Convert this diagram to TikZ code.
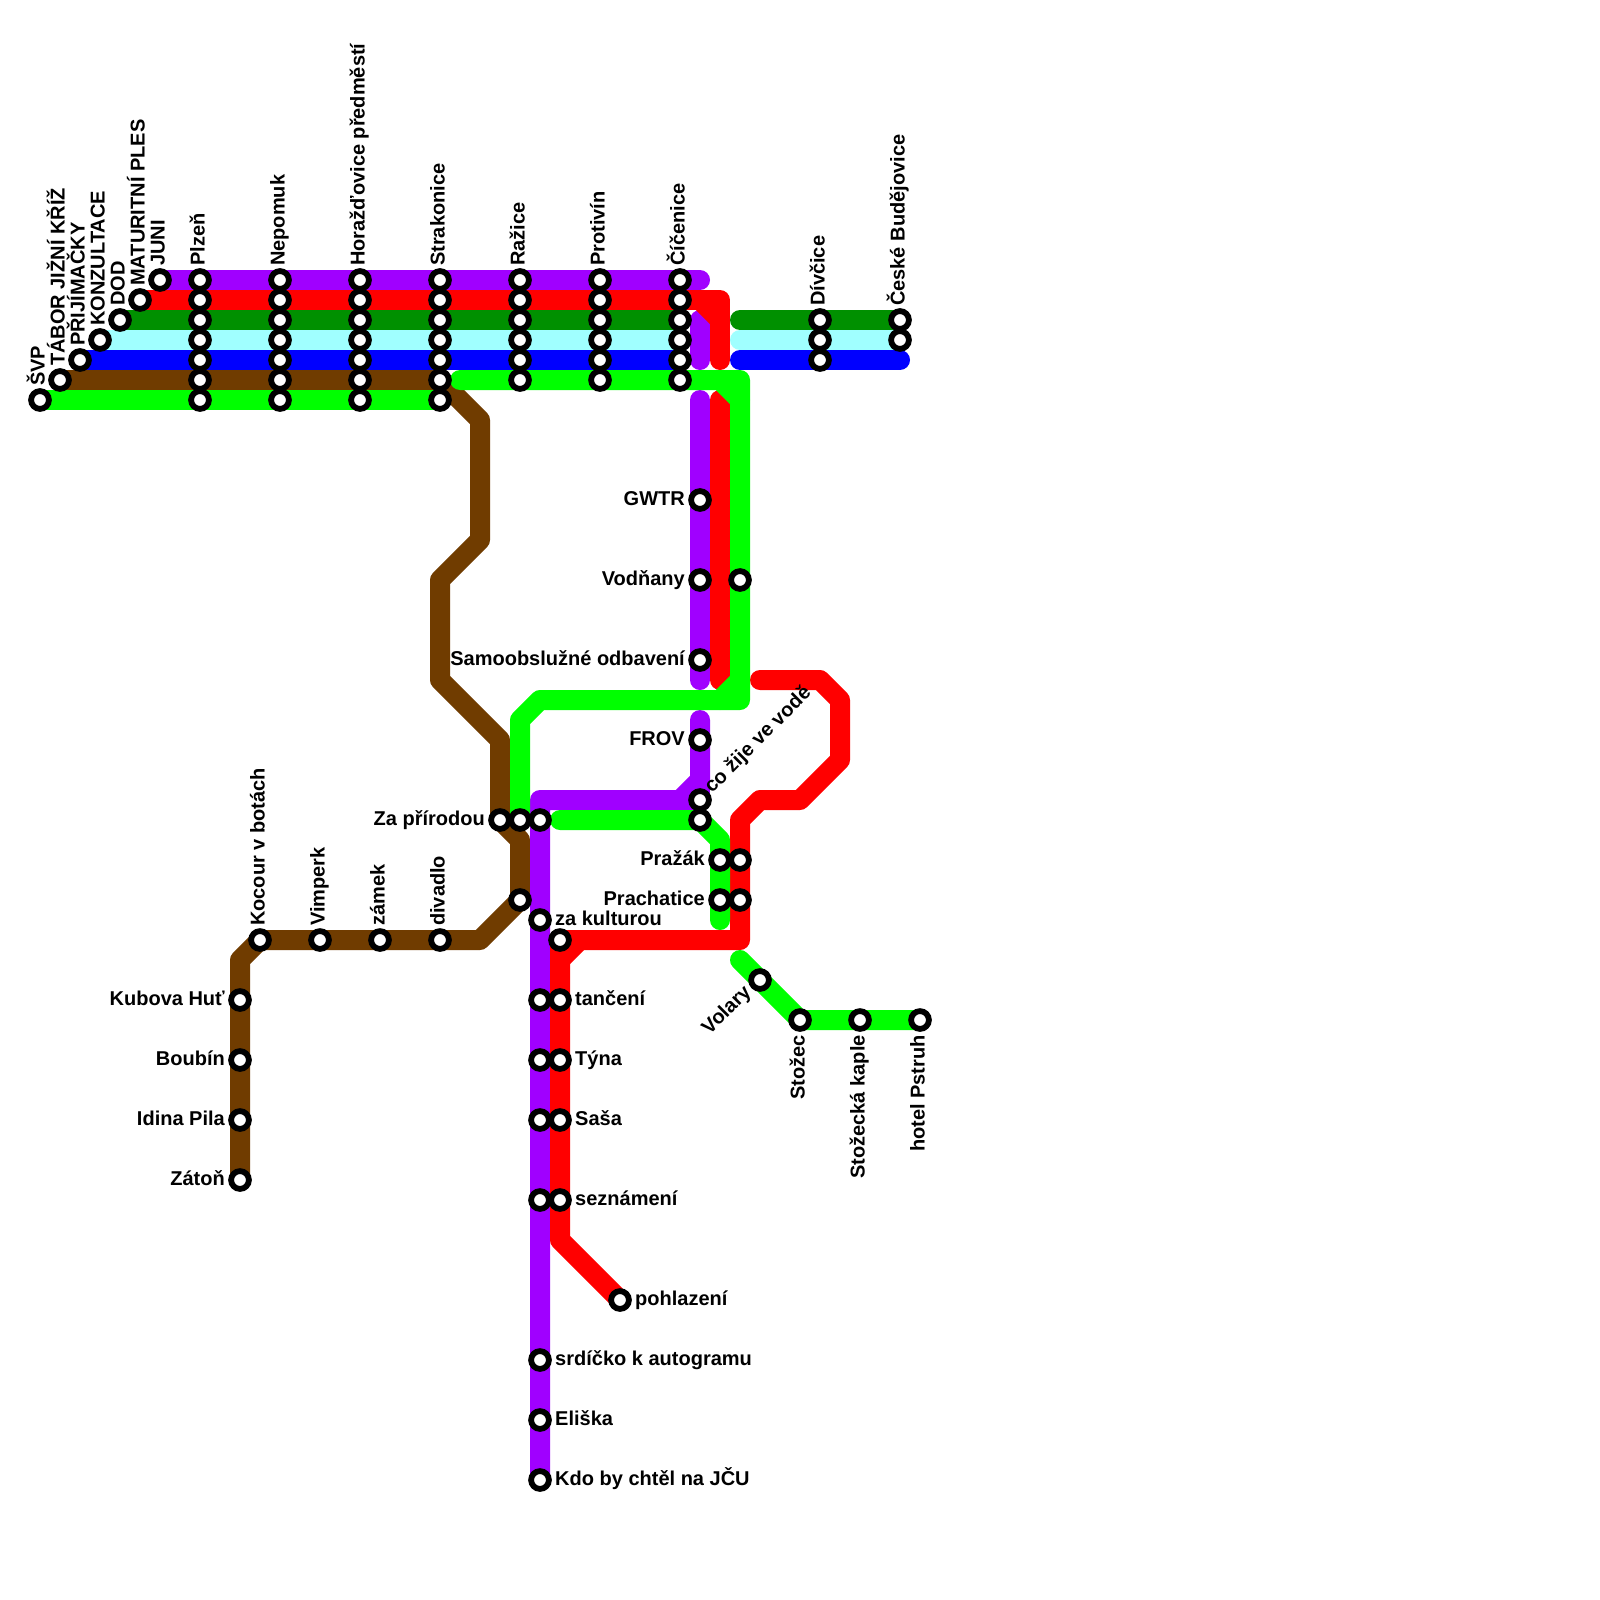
\documentclass[tikz,border=0pt]{standalone}
\usepackage{fontspec}
\setmainfont{Liberation Sans}
\usetikzlibrary{backgrounds}

\definecolor{linepurple}{HTML}{A000FF}
\definecolor{linered}{HTML}{FF0000}
\definecolor{linedark}{HTML}{009000}
\definecolor{linecyan}{HTML}{A0FFFF}
\definecolor{lineblue}{HTML}{0000FF}
\definecolor{linebrown}{HTML}{703C00}
\definecolor{linegreen}{HTML}{00FF00}

\begin{document}
\begin{tikzpicture}[
  x=1pt,
  y=-1pt,
  font=\fontsize{20}{20}\selectfont\bfseries,
  stn/.style={
    circle,
    draw=black,
    fill=white,
    line width=5.8pt,
    inner sep=0pt,
    minimum size=17.8pt
  },
  metro/.style={
    line width=20pt,
    line join=round,
    line cap=round
  },
  toplab/.style={xshift=4.5pt,yshift=14pt,rotate=90,anchor=base west,inner sep=0pt},
  botlab/.style={xshift=4.5pt,yshift=-15pt,rotate=90,anchor=base east,inner sep=0pt},
  leftlab/.style={anchor=base east,inner sep=0pt,xshift=-15pt,yshift=-5pt},
  rightlab/.style={anchor=base west,inner sep=0pt,xshift=15pt,yshift=-5pt}
]

% Stations in the long columns
\foreach \col/\x in {plzen/200,nepomuk/280,horazdovice/360,strakonice/440}
  \foreach \row/\y in {a/280,b/300,c/320,d/340,e/360,f/380,g/400}
    \node[stn] (\col\row) at (\x,\y) {};
\foreach \col/\x in {razice/520,protivin/600,cicenice/680}
  \foreach \row/\y in {a/280,b/300,c/320,d/340,e/360,f/380}
    \node[stn] (\col\row) at (\x,\y) {};

% Single stations
\foreach \name/\x/\y in {
  svp/40/400,tabor/60/380,prijimacky/80/360,konzultace/100/340,dod/120/320,
  maturitni/140/300,juni/160/280,
  divcicec/820/320,divciced/820/340,divcicee/820/360,
  budejovicec/900/320,budejoviced/900/340,
  gwtr/700/500,vodnany/700/580,odbaveni/700/660,plain/740/580,
  frov/700/740,voda/700/800,vodalow/700/820,
  priroda/500/820,prirodb/520/820,prirodc/540/820,
  prazak/720/860,prazakr/740/860,prachatice/720/900,prachaticer/740/900,
  brownend/520/900,kulturou/540/920,redknee/560/940,
  puta/540/1000,putb/540/1060,putc/540/1120,putd/540/1200,
  tanceni/560/1000,tyna/560/1060,sasa/560/1120,seznameni/560/1200,
  pohlazeni/620/1300,srdicko/540/1360,eliska/540/1420,jcu/540/1480,
  kocour/260/940,vimperk/320/940,zamek/380/940,divadlo/440/940,
  kubova/240/1000,boubin/240/1060,idina/240/1120,zaton/240/1180,
  volary/760/980,stozec/800/1020,kaple/860/1020,pstruh/920/1020}
  \node[stn] (\name) at (\x,\y) {};

% Bends and free line ends
\foreach \name/\x/\y in {
  purpleend/700/280,purplestub/700/320,purplestubend/700/360,
  purplelong/700/400,purplelongend/700/680,purplefrov/700/720,
  purpleknee/700/780,purplebend/680/800,purplecorner/540/800,
  redfold/700/300,redturn/720/300,redfoldend/720/320,redend/720/360,
  redlong/720/400,redlongend/720/680,
  reda/760/680,redb/820/680,redc/840/700,redd/840/760,rede/800/800,
  redf/760/800,redg/740/820,redh/740/940,rediend/580/940,redj/560/960,
  redk/560/1240,
  darkright/740/320,cyanright/740/340,blueright/740/360,blueend/900/360,
  greenstart/460/380,greenfold/720/380,greenturn/740/380,greenfoldend/740/400,
  greennotchend/740/680,greennotch/720/700,greenlow/740/700,
  greenleft/540/700,greenbend/520/720,
  greenshort/560/820,greendiag/720/840,greenshortend/720/920,
  volaryend/740/960,
  bra/480/420,brb/480/540,brc/440/580,brd/440/680,bre/500/740,brf/520/840,brg/480/940,brh/240/960}
  \coordinate (\name) at (\x,\y);

\begin{scope}[on background layer]
\path[use as bounding box,fill=white] (0,0) rectangle (1600,1600);

% Brown first, everything else runs over it
\draw[metro,linebrown] (tabor.center) -- (strakonicef.center) -- (bra) -- (brb) -- (brc) -- (brd)
  -- (bre) -- (priroda.center) -- (brf) -- (brownend.center) -- (brg) -- (kocour.center)
  -- (brh) -- (zaton.center);

% Upper bundle
\draw[metro,linepurple] (juni.center) -- (purpleend);
\draw[metro,linepurple] (purplestub) -- (purplestubend);
\draw[metro,linedark] (dod.center) -- (cicenicec.center);
\draw[metro,linecyan] (konzultace.center) -- (ciceniced.center);
\draw[metro,lineblue] (prijimacky.center) -- (cicenicee.center);
\draw[metro,linedark] (darkright) -- (budejovicec.center);
\draw[metro,linecyan] (cyanright) -- (budejoviced.center);
\draw[metro,lineblue] (blueright) -- (blueend);
\draw[metro,linegreen] (svp.center) -- (strakoniceg.center);

% Purple branch
\draw[metro,linepurple] (purplelong) -- (purplelongend);
\draw[metro,linepurple] (purplefrov) -- (purpleknee) -- (purplebend) -- (purplecorner) -- (jcu.center);
\draw[metro,linepurple] (purpleknee) -- (voda.center) -- (purplebend);

% Red
\draw[metro,linered] (maturitni.center) -- (redturn) -- (redend);
\draw[metro,linered] (redfold) -- (redfoldend);
\draw[metro,linered] (redlong) -- (redlongend);
\draw[metro,linered] (reda) -- (redb) -- (redc) -- (redd) -- (rede) -- (redf) -- (redg) -- (redh)
  -- (redknee.center) -- (redk) -- (pohlazeni.center);
\draw[metro,linered] (rediend) -- (redj);

% Green
\draw[metro,linegreen] (greenstart) -- (greenturn) -- (greenlow) -- (greenleft) -- (greenbend) -- (prirodb.center);
\draw[metro,linegreen] (greenfold) -- (greenfoldend);
\draw[metro,linegreen] (greennotchend) -- (greennotch);
\draw[metro,linegreen] (greenshort) -- (vodalow.center) -- (greendiag) -- (greenshortend);
\draw[metro,linegreen] (volaryend) -- (stozec.center) -- (pstruh.center);
\end{scope}

% Labels above the stations
\foreach \name/\txt in {
  svp/ŠVP,tabor/TÁBOR JIŽNÍ KŘÍŽ,prijimacky/PŘIJÍMAČKY,konzultace/KONZULTACE,dod/DOD,
  maturitni/MATURITNÍ PLES,juni/JUNI,plzena/Plzeň,nepomuka/Nepomuk,
  horazdovicea/Horažďovice předměstí,strakonicea/Strakonice,razicea/Ražice,
  protivina/Protivín,cicenicea/Číčenice,divcicec/Dívčice,budejovicec/České Budějovice,
  kocour/Kocour v botách,vimperk/Vimperk,zamek/zámek,divadlo/divadlo}
  \node[toplab] (\name-text) at (\name) {\txt};

% Labels below
\foreach \name/\txt in {stozec/Stožec,kaple/Stožecká kaple,pstruh/hotel Pstruh}
  \node[botlab] (\name-text) at (\name) {\txt};

% Labels to the left
\foreach \name/\txt in {
  gwtr/GWTR,vodnany/Vodňany,odbaveni/Samoobslužné odbavení,frov/FROV,priroda/Za přírodou,
  prazak/Pražák,prachatice/Prachatice,kubova/Kubova Huť,boubin/Boubín,idina/Idina Pila,zaton/Zátoň}
  \node[leftlab] (\name-text) at (\name) {\txt};

% Labels to the right
\foreach \name/\txt in {
  kulturou/za kulturou,tanceni/tančení,tyna/Týna,sasa/Saša,seznameni/seznámení,
  pohlazeni/pohlazení,srdicko/srdíčko k autogramu,eliska/Eliška,jcu/Kdo by chtěl na JČU}
  \node[rightlab] (\name-text) at (\name) {\txt};

% Slanted labels
\node[xshift=12pt,yshift=6pt,rotate=45,anchor=base west,inner sep=0pt] (voda-text) at (voda) {co žije ve vodě};
\node[xshift=-8pt,yshift=-13pt,rotate=45,anchor=base east,inner sep=0pt] (volary-text) at (volary) {Volary};

\end{tikzpicture}
\end{document}
